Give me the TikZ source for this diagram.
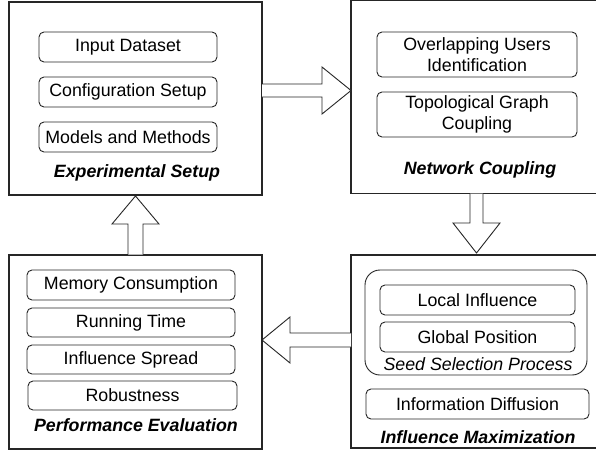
\documentclass[tikz,border=0pt]{standalone}
\usepackage{fontspec}
\setmainfont{Liberation Sans}
\begin{document}
\begin{tikzpicture}[x=1pt,y=-1pt,
  outerbox/.style={draw=black!85, line width=1.3pt, inner sep=0pt},
  ibox/.style={draw=black!85, line width=0.9pt, rounded corners=5pt, inner sep=0pt, align=center, font=\fontsize{17.8}{20.5}\selectfont},
  grp/.style={draw=black!85, line width=0.9pt, rounded corners=15pt, inner sep=0pt},
  title/.style={inner sep=0pt, font=\fontsize{17.8}{20.5}\selectfont\bfseries\itshape},
  sub/.style={inner sep=0pt, font=\fontsize{17.8}{20.5}\selectfont\itshape},
  blockarrow/.style={draw=black!85, line width=0.9pt, fill=white, line join=miter}
]
\clip (0,0) rectangle (596,452);
\fill[white] (0,0) rectangle (596,452);

% outer boxes
\node[outerbox, minimum width=253, minimum height=193] (es) at (135.5,98.5) {};
\node[outerbox, minimum width=260, minimum height=192.5] (nc) at (481,97) {};
\node[outerbox, minimum width=253, minimum height=194] (pe) at (135.5,352) {};
\node[outerbox, minimum width=260, minimum height=193] (im) at (481,351.5) {};

% Experimental Setup
\node[ibox, minimum width=178, minimum height=30] (in) at (128,47) {Input Dataset};
\node[ibox, minimum width=178, minimum height=30] (cs) at (128,92) {Configuration Setup};
\node[ibox, minimum width=178, minimum height=30] (mm) at (128,137) {Models and Methods};
\node[title] (est) at (137,173) {Experimental Setup};

% Network Coupling
\node[ibox, minimum width=200, minimum height=45] (ou) at (477,54.5) {Overlapping Users\\Identification};
\node[ibox, minimum width=200, minimum height=45] (tg) at (477,114.5) {Topological Graph\\Coupling};
\node[title] (nct) at (480,170) {Network Coupling};

% Performance Evaluation
\node[ibox, minimum width=208, minimum height=30] (mc) at (131,285) {Memory Consumption};
\node[ibox, minimum width=208, minimum height=29] (rt) at (131,322.5) {Running Time};
\node[ibox, minimum width=208, minimum height=29] (is) at (131,359.5) {Influence Spread};
\node[ibox, minimum width=209, minimum height=29] (rb) at (132.5,395.5) {Robustness};
\node[title] (pet) at (136,425) {Performance Evaluation};

% Influence Maximization
\node[grp, minimum width=222, minimum height=105] (ssp) at (476,322.5) {};
\node[ibox, minimum width=195, minimum height=30] (li) at (477.5,300) {Local Influence};
\node[ibox, minimum width=195, minimum height=30] (gp) at (477.5,337) {Global Position};
\node[sub] (sspt) at (478,364.5) {Seed Selection Process};
\node[ibox, minimum width=223, minimum height=30] (id) at (477.5,404) {Information Diffusion};
\node[title] (imt) at (478,437) {Influence Maximization};

% block arrows
\draw[blockarrow] (262,84) -- (322,84) -- (322,67) -- (351,90.5) -- (322,114) -- (322,97) -- (262,97);
\draw[blockarrow] (470,193.5) -- (470,223) -- (453,223) -- (476.5,253) -- (500,223) -- (483,223) -- (483,193.5);
\draw[blockarrow] (351,333) -- (290,333) -- (290,317) -- (262,340) -- (290,363) -- (290,347) -- (351,347);
\draw[blockarrow] (128,254.5) -- (128,224) -- (112,224) -- (135.5,196) -- (159,224) -- (143,224) -- (143,254.5);
\end{tikzpicture}
\end{document}
